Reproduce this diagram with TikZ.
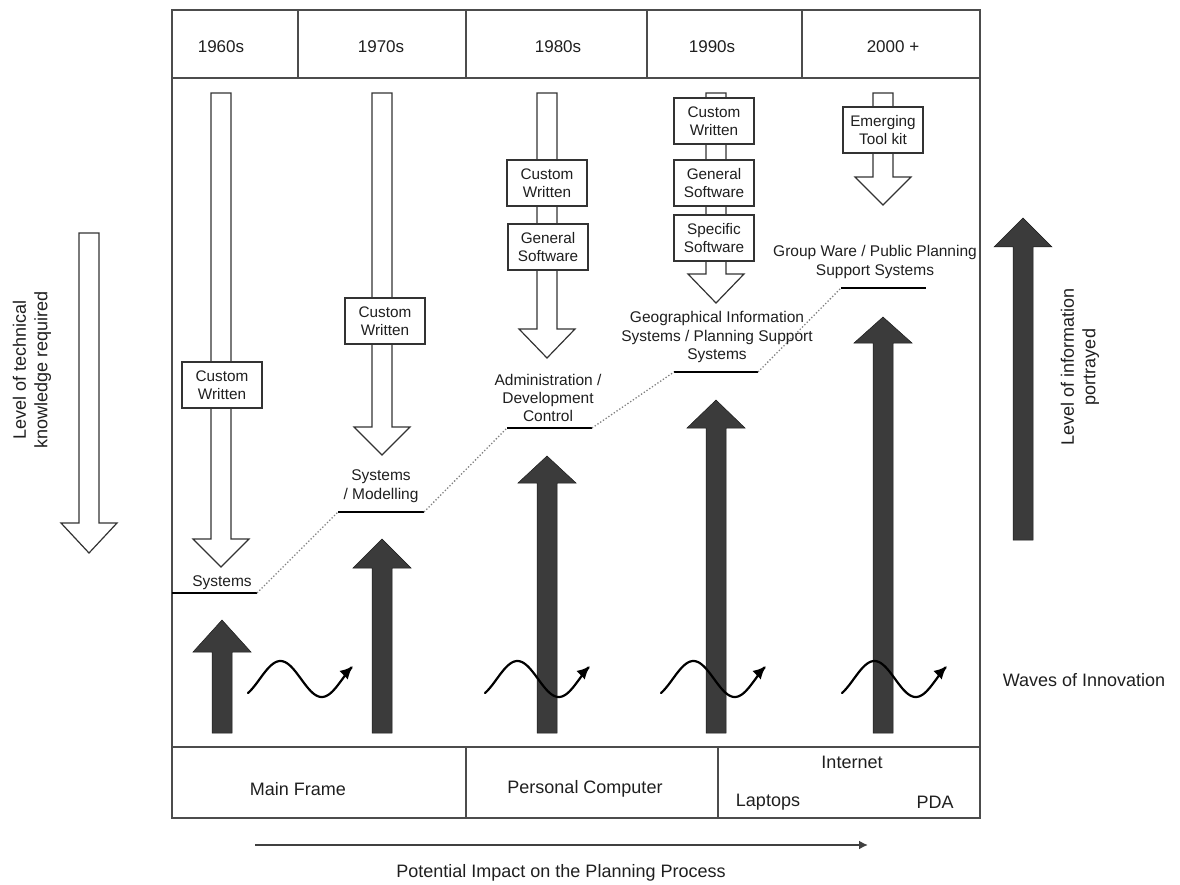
\documentclass[tikz,border=0pt]{standalone}
\usepackage{fontspec}
\setmainfont{Liberation Sans}
\usetikzlibrary{arrows.meta}

% hollow block arrow pointing down: x, top, start of head, tip
\newcommand\hollowdown[4]{%
  \draw[hollow] (#1-10,#2) -- (#1+10,#2) -- (#1+10,#3) -- (#1+28,#3)
    -- (#1,#4) -- (#1-28,#3) -- (#1-10,#3) -- cycle;}
% solid block arrow pointing up: x, bottom, base of head, tip
\newcommand\solidup[4]{%
  \draw[solid] (#1-10,#2) -- (#1+10,#2) -- (#1+10,#3) -- (#1+29,#3)
    -- (#1,#4) -- (#1-29,#3) -- (#1-10,#3) -- cycle;}
% one wave of innovation starting at x (105 wide, phase -51..406 deg)
\newcommand\innowave[1]{%
  \draw[wave] plot[domain=-51:406,samples=90,smooth]
    ({#1+(\x+51)*0.22976},{679-18*sin(\x)});}

\begin{document}
\begin{tikzpicture}[x=1pt,y=-1pt,
  every node/.style={text=black!88, inner sep=0pt},
  grid/.style={draw=black!70, line width=1.2pt},
  hollow/.style={draw=black!80, fill=white, line width=1.2pt, line join=miter},
  solid/.style={draw=black!90, fill=black!77, line width=0.5pt},
  swbox/.style={draw=black!80, fill=white, line width=1.2pt,
    minimum width=80pt, minimum height=46pt, align=center,
    font=\fontsize{15.3}{17.8}\selectfont},
  era/.style={font=\fontsize{17}{20}\selectfont},
  tech/.style={font=\fontsize{15.5}{18.4}\selectfont, align=center},
  big/.style={font=\fontsize{18}{21.5}\selectfont, align=center},
  under/.style={draw=black, line width=2pt},
  trail/.style={draw=black!50, line width=1.3pt, dotted},
  wave/.style={draw=black, line width=2.2pt, line cap=round,
    -{Latex[length=13pt,width=12pt]}},
  impact/.style={draw=black!75, line width=2.4pt, -{Latex[length=9pt,width=9pt]}},
]
\useasboundingbox (0,0) rectangle (1180,885);

% ---------- frame ----------
\draw[grid] (172,10) rectangle (980,818);
\draw[grid] (172,78) -- (980,78);
\foreach \d in {298,466,647,802} \draw[grid] (\d,10) -- (\d,78);
\draw[grid] (172,747) -- (980,747);
\foreach \d in {466,718} \draw[grid] (\d,747) -- (\d,818);

% ---------- decades ----------
\node[era] (d60) at (221,47) {1960s};
\node[era] (d70) at (381,47) {1970s};
\node[era] (d80) at (558,47) {1980s};
\node[era] (d90) at (712,47) {1990s};
\node[era] (d00) at (893,47) {2000 +};

% ---------- technical knowledge (hollow arrows) ----------
\hollowdown{221}{93}{539}{567}
\hollowdown{382}{93}{427}{455}
\hollowdown{547}{93}{329}{358}
\hollowdown{716}{93}{274}{303}
\hollowdown{883}{93}{177}{205}

\node[swbox] (cw60) at (222,385) {Custom\\Written};
\node[swbox] (cw70) at (385,321) {Custom\\Written};
\node[swbox] (cw80) at (547,183) {Custom\\Written};
\node[swbox] (gs80) at (548,247) {General\\Software};
\node[swbox] (cw90) at (714,121) {Custom\\Written};
\node[swbox] (gs90) at (714,183) {General\\Software};
\node[swbox] (ss90) at (714,238) {Specific\\Software};
\node[swbox] (et00) at (883,130) {Emerging\\Tool kit};

% ---------- planning applications ----------
\node[tech] (app60) at (222,583) {Systems};
\node[tech] (app70) at (381,486) {Systems\\/ Modelling};
\node[tech] (app80) at (548,398) {Administration /\\Development\\Control};
\node[tech] (app90) at (717,337) {Geographical Information\\Systems / Planning Support\\Systems};
\node[tech] (app00) at (875,262) {Group Ware / Public Planning\\Support Systems};

\coordinate (u1a) at (172,593); \coordinate (u1b) at (257,593);
\coordinate (u2a) at (338,512); \coordinate (u2b) at (424,512);
\coordinate (u3a) at (507,428); \coordinate (u3b) at (592,428);
\coordinate (u4a) at (674,372); \coordinate (u4b) at (758,372);
\coordinate (u5a) at (841,288); \coordinate (u5b) at (926,288);
\draw[under] (u1a) -- (u1b);
\draw[under] (u2a) -- (u2b);
\draw[under] (u3a) -- (u3b);
\draw[under] (u4a) -- (u4b);
\draw[under] (u5a) -- (u5b);
\draw[trail] (u1b) -- (u2a);
\draw[trail] (u2b) -- (u3a);
\draw[trail] (u3b) -- (u4a);
\draw[trail] (u4b) -- (u5a);

% ---------- information portrayed (solid arrows) ----------
\solidup{222}{733}{652}{620}
\solidup{382}{733}{568}{539}
\solidup{547}{733}{483}{456}
\solidup{716}{733}{428}{400}
\solidup{883}{733}{343}{317}

% ---------- waves of innovation ----------
\innowave{248}
\innowave{485}
\innowave{661}
\innowave{842}

% ---------- platforms ----------
\node[big] (mf) at (298,789) {Main Frame};
\node[big] (pc) at (585,789) {Personal Computer};
\node[big] (inet) at (852,762) {Internet};
\node[big] (lap) at (768,802) {Laptops};
\node[big] (pda) at (935,802) {PDA};

% ---------- side axes ----------
\hollowdown{89}{233}{523}{553}
\node[big, rotate=90] (tech) at (32,370) {Level of technical\\knowledge required};

\solidup{1023}{540}{247}{218}
\node[big, rotate=90] (info) at (1080,367) {Level of information\\portrayed};

\node[big] (waves) at (1084,680) {Waves of Innovation};

% ---------- impact axis ----------
\coordinate (pa) at (255,845);
\coordinate (pb) at (868,845);
\draw[impact] (pa) -- (pb);
\node[big] (impact) at (561,873) {Potential Impact on the Planning Process};
\end{tikzpicture}
\end{document}
